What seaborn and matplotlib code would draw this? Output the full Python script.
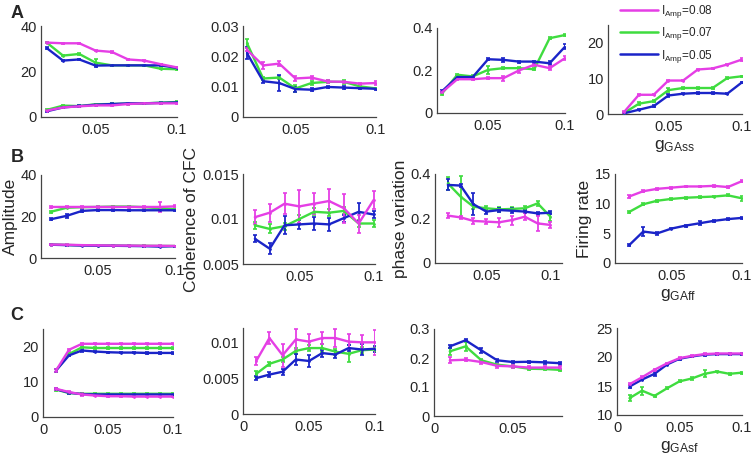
import numpy as np
import pandas as pd
import matplotlib
matplotlib.use("Agg")
import matplotlib.pyplot as plt
import seaborn as sns
from matplotlib.lines import Line2D

# ---------------- data ----------------
x_ab = [0.02, 0.03, 0.04, 0.05, 0.06, 0.07, 0.08, 0.09, 0.10]
x_c = [0.01, 0.02, 0.03, 0.04, 0.05, 0.06, 0.07, 0.08, 0.09, 0.10]
x_c3 = [0.01, 0.02, 0.03, 0.04, 0.05, 0.06, 0.07, 0.08]
amp_labels = ["0.08", "0.07", "0.05"]

# Row A (g_GAss)
A1_hi_m = [32.7, 32.4, 32.4, 29.2, 28.6, 25.3, 24.8, 23.2, 21.8]
A1_hi_g = [32.7, 27.0, 27.7, 23.9, 22.7, 22.7, 22.7, 21.2, 21.0]
A1_hi_b = [30.3, 24.8, 25.3, 22.6, 22.7, 22.7, 22.7, 22.7, 21.6]
A1_lo_m = [2.8, 4.2, 4.7, 5.1, 5.1, 5.7, 6.0, 6.0, 6.0]
A1_lo_g = [3.1, 5.0, 4.8, 5.6, 5.7, 5.9, 6.0, 6.3, 6.6]
A1_lo_b = [2.5, 4.2, 4.8, 5.4, 5.7, 6.0, 6.0, 6.2, 6.4]
A1_hi_m_e = [0.3, 0.3, 0.3, 0.4, 0.3, 0.3, 0.3, 0.3, 0.3]
A1_hi_g_e = [0.3, 0.4, 0.4, 1.5, 0.3, 0.3, 0.3, 0.3, 0.3]
A1_hi_b_e = [0.4, 0.4, 0.4, 0.7, 0.3, 0.3, 0.3, 0.4, 0.4]
A1_lo_e = [0.3, 0.3, 0.3, 0.3, 0.3, 0.3, 0.3, 0.3, 0.3]

A2_m = [0.0221, 0.0170, 0.0176, 0.0127, 0.0130, 0.0117, 0.0116, 0.0110, 0.0112]
A2_g = [0.0243, 0.0127, 0.0130, 0.0094, 0.0112, 0.0116, 0.0116, 0.0101, 0.0094]
A2_b = [0.0210, 0.0118, 0.0112, 0.0092, 0.0090, 0.0099, 0.0097, 0.0095, 0.0093]
A2_m_e = [0.0005, 0.0012, 0.0008, 0.0007, 0.0005, 0.0004, 0.0004, 0.0003, 0.0006]
A2_g_e = [0.0015, 0.0005, 0.0005, 0.0013, 0.0008, 0.0005, 0.0006, 0.0003, 0.0003]
A2_b_e = [0.0020, 0.0006, 0.0025, 0.0008, 0.0005, 0.0004, 0.0005, 0.0003, 0.0003]

A3_m = [0.097, 0.159, 0.159, 0.164, 0.164, 0.200, 0.227, 0.211, 0.258]
A3_g = [0.091, 0.180, 0.172, 0.203, 0.211, 0.211, 0.206, 0.352, 0.367]
A3_b = [0.102, 0.169, 0.169, 0.253, 0.250, 0.242, 0.242, 0.234, 0.312]
A3_m_e = [0.005, 0.005, 0.005, 0.005, 0.012, 0.012, 0.005, 0.010, 0.010]
A3_g_e = [0.005, 0.005, 0.005, 0.020, 0.005, 0.005, 0.005, 0.005, 0.005]
A3_b_e = [0.005, 0.005, 0.005, 0.005, 0.010, 0.005, 0.005, 0.010, 0.012]

A4_m = [0.6, 5.4, 5.4, 9.4, 9.4, 12.5, 12.8, 13.9, 15.3]
A4_g = [0.3, 2.9, 3.6, 6.7, 7.3, 7.3, 7.3, 10.1, 10.6]
A4_b = [0.2, 1.2, 2.2, 5.2, 5.7, 5.9, 5.9, 5.7, 8.9]
A4_m_e = [0.2, 0.2, 0.2, 0.2, 0.2, 0.2, 0.2, 0.2, 0.4]
A4_g_e = [0.2, 0.4, 0.2, 0.6, 0.2, 0.2, 0.2, 0.2, 0.2]
A4_b_e = [0.2, 0.2, 0.3, 0.3, 0.2, 0.2, 0.2, 0.2, 0.2]

# Row B (g_GAff)
B1_hi_m = [24.6, 24.6, 24.6, 24.6, 24.6, 24.6, 24.6, 24.6, 24.9]
B1_hi_g = [22.3, 24.2, 24.5, 24.6, 24.8, 24.8, 24.5, 24.0, 23.5]
B1_hi_b = [18.7, 20.3, 22.7, 23.1, 23.1, 23.0, 23.0, 23.0, 23.0]
B1_lo_m = [6.5, 6.4, 6.2, 6.1, 6.0, 6.0, 5.9, 5.9, 5.8]
B1_lo_g = [6.5, 6.3, 6.1, 6.0, 6.0, 5.9, 5.9, 5.8, 5.8]
B1_lo_b = [6.4, 6.2, 6.0, 5.9, 5.9, 5.8, 5.7, 5.5, 5.7]
B1_hi_m_e = [0.3, 0.3, 0.3, 0.3, 0.3, 0.3, 0.3, 2.5, 0.5]
B1_hi_g_e = [0.4, 0.3, 0.3, 0.3, 0.3, 0.3, 0.3, 0.3, 0.3]
B1_hi_b_e = [0.5, 0.8, 0.3, 0.3, 0.3, 0.3, 0.3, 0.3, 0.3]
B1_lo_e = [0.2, 0.2, 0.2, 0.2, 0.2, 0.2, 0.2, 0.2, 0.2]

B2_m = [0.0102, 0.0107, 0.0117, 0.0114, 0.0117, 0.0120, 0.0112, 0.0095, 0.0121]
B2_g = [0.0093, 0.0089, 0.0092, 0.0100, 0.0108, 0.0107, 0.0109, 0.0095, 0.0095]
B2_b = [0.0078, 0.0067, 0.0093, 0.0094, 0.0095, 0.0094, 0.0101, 0.0108, 0.0105]
B2_m_e = [0.0008, 0.0010, 0.0012, 0.0018, 0.0012, 0.0013, 0.0016, 0.0010, 0.0010]
B2_g_e = [0.0004, 0.0005, 0.0004, 0.0004, 0.0004, 0.0004, 0.0004, 0.0004, 0.0004]
B2_b_e = [0.0004, 0.0006, 0.0010, 0.0005, 0.0007, 0.0007, 0.0004, 0.0010, 0.0004]

B3_m = [0.213, 0.205, 0.189, 0.186, 0.183, 0.193, 0.208, 0.178, 0.171]
B3_g = [0.358, 0.298, 0.253, 0.246, 0.241, 0.243, 0.246, 0.268, 0.208]
B3_b = [0.351, 0.348, 0.264, 0.231, 0.238, 0.235, 0.231, 0.223, 0.226]
B3_m_e = [0.012, 0.008, 0.015, 0.012, 0.020, 0.020, 0.015, 0.035, 0.012]
B3_g_e = [0.030, 0.095, 0.010, 0.010, 0.010, 0.008, 0.008, 0.010, 0.020]
B3_b_e = [0.025, 0.008, 0.050, 0.010, 0.008, 0.010, 0.008, 0.008, 0.008]

B4_m = [11.2, 12.1, 12.5, 12.7, 12.9, 12.9, 13.0, 12.8, 13.8]
B4_g = [8.6, 9.9, 10.5, 10.8, 11.0, 11.1, 11.2, 11.4, 10.9]
B4_b = [3.0, 5.3, 5.0, 5.8, 6.3, 6.7, 7.1, 7.4, 7.6]
B4_m_e = [0.2, 0.2, 0.15, 0.15, 0.15, 0.15, 0.15, 0.2, 0.2]
B4_g_e = [0.2, 0.2, 0.15, 0.15, 0.15, 0.15, 0.15, 0.15, 0.4]
B4_b_e = [0.2, 0.8, 0.2, 0.15, 0.15, 0.3, 0.2, 0.15, 0.15]

# Row C (g_GAsf)
C1_hi_m = [13.2, 19.1, 20.8, 20.8, 20.8, 20.8, 20.8, 20.8, 20.8, 20.8]
C1_hi_g = [13.2, 17.9, 19.8, 19.6, 19.6, 19.6, 19.6, 19.6, 19.6, 19.6]
C1_hi_b = [13.2, 17.5, 18.9, 18.6, 18.4, 18.3, 18.3, 18.2, 18.2, 18.2]
C1_lo_m = [8.0, 7.1, 6.4, 6.1, 5.9, 5.9, 5.8, 5.8, 5.8, 5.8]
C1_lo_g = [7.8, 6.8, 6.6, 6.6, 6.6, 6.6, 6.6, 6.6, 6.6, 6.6]
C1_lo_b = [7.9, 6.9, 6.5, 6.4, 6.4, 6.4, 6.4, 6.4, 6.4, 6.4]
C1_e = [0.3, 0.3, 0.3, 0.2, 0.2, 0.2, 0.2, 0.2, 0.2, 0.2]

C2_m = [0.0074, 0.0106, 0.0082, 0.0104, 0.0101, 0.0106, 0.0106, 0.0101, 0.0100, 0.0100]
C2_g = [0.0056, 0.0070, 0.0076, 0.0088, 0.0092, 0.0092, 0.0087, 0.0084, 0.0089, 0.0090]
C2_b = [0.0050, 0.0055, 0.0059, 0.0076, 0.0074, 0.0085, 0.0083, 0.0092, 0.0090, 0.0091]
C2_m_e = [0.0006, 0.0008, 0.0016, 0.0015, 0.0010, 0.0008, 0.0012, 0.0010, 0.0010, 0.0017]
C2_g_e = [0.0004, 0.0003, 0.0004, 0.0004, 0.0004, 0.0005, 0.0004, 0.0012, 0.0004, 0.0003]
C2_b_e = [0.0003, 0.0004, 0.0004, 0.0008, 0.0009, 0.0005, 0.0005, 0.0004, 0.0007, 0.0004]

C3_m = [0.192, 0.194, 0.186, 0.173, 0.171, 0.167, 0.167, 0.167]
C3_g = [0.223, 0.240, 0.192, 0.177, 0.171, 0.163, 0.162, 0.159]
C3_b = [0.240, 0.261, 0.226, 0.192, 0.186, 0.187, 0.185, 0.182]
C3_m_e = [0.010, 0.005, 0.008, 0.006, 0.005, 0.004, 0.004, 0.004]
C3_g_e = [0.012, 0.015, 0.005, 0.004, 0.004, 0.004, 0.004, 0.004]
C3_b_e = [0.005, 0.004, 0.010, 0.005, 0.004, 0.004, 0.004, 0.005]

C4_m = [15.3, 16.5, 17.8, 18.9, 19.8, 20.2, 20.5, 20.6, 20.6, 20.6]
C4_g = [12.9, 14.2, 13.3, 14.6, 15.8, 16.3, 17.1, 17.5, 17.1, 17.3]
C4_b = [14.9, 16.1, 17.1, 18.7, 19.7, 20.1, 20.4, 20.5, 20.5, 20.5]
C4_m_e = [0.2, 0.15, 0.15, 0.15, 0.15, 0.15, 0.15, 0.15, 0.15, 0.15]
C4_g_e = [0.5, 0.7, 0.15, 0.15, 0.15, 0.2, 0.6, 0.15, 0.15, 0.15]
C4_b_e = [0.2, 0.15, 0.3, 0.15, 0.15, 0.15, 0.15, 0.15, 0.15, 0.15]

# ---------------- style ----------------
sns.set_style("white")
plt.rcParams["font.family"] = ["Liberation Sans", "DejaVu Sans"]
plt.rcParams["mathtext.fontset"] = "custom"
plt.rcParams["mathtext.rm"] = "Liberation Sans"
plt.rcParams["mathtext.it"] = "Liberation Sans"

MAG, GRN, BLU = "#e53ee5", "#3fdc3f", "#1a24c8"
palette = {"0.08": MAG, "0.07": GRN, "0.05": BLU}

W, H = 753, 458
fig = plt.figure(figsize=(W / 100, H / 100), dpi=100)


def add_ax(l, t, r, b):
    return fig.add_axes([l / W, 1 - b / H, (r - l) / W, (b - t) / H])


def fmt(v, pos=None):
    return "%g" % round(v, 6)


def panel(box, x, series, xlim, ylim, yticks, xticks, ylabel=None, xlabel=None):
    ax = add_ax(*box)
    rows = []
    for ci, (amp, vals, errs) in enumerate(series):
        for xi, v, e in zip(x, vals, errs):
            rows.append({"x": xi, "y": v, "err": e, "amp": amp, "curve": ci})
    df = pd.DataFrame(rows)
    order = ["0.07", "0.05", "0.08"]
    for amp in order:
        sub = df[df["amp"] == amp]
        if sub.empty:
            continue
        ax.errorbar(sub["x"], sub["y"], yerr=sub["err"], fmt="none",
                    ecolor=palette[amp], elinewidth=1.3, capsize=1.6,
                    capthick=1.2, zorder=2)
        sns.lineplot(data=sub, x="x", y="y", units="curve", estimator=None,
                     color=palette[amp], lw=1.7, marker="o", markersize=2.0,
                     markeredgewidth=0, ax=ax, legend=False, zorder=3)
    ax.set_xlim(*xlim)
    ax.set_ylim(*ylim)
    ax.set_yticks(yticks)
    ax.set_xticks(xticks)
    ax.xaxis.set_major_formatter(plt.FuncFormatter(fmt))
    ax.yaxis.set_major_formatter(plt.FuncFormatter(fmt))
    ax.set_xlabel("")
    ax.set_ylabel("")
    if ylabel:
        ax.set_ylabel(ylabel, fontsize=12.5, labelpad=2)
    if xlabel:
        ax.set_xlabel(xlabel, fontsize=12.5, labelpad=3)
    sns.despine(ax=ax)
    for s in ["left", "bottom"]:
        ax.spines[s].set_color("#444444")
        ax.spines[s].set_linewidth(0.9)
    ax.tick_params(axis="both", labelsize=10.5, direction="in", length=2.5,
                   width=0.8, color="#444444", pad=3)
    ax.tick_params(axis="x", pad=4)
    return ax


lab_m, lab_g, lab_b = amp_labels

# Row A
panel((41, 26, 177, 117), x_ab,
      [(lab_m, A1_hi_m, A1_hi_m_e), (lab_g, A1_hi_g, A1_hi_g_e), (lab_b, A1_hi_b, A1_hi_b_e),
       (lab_m, A1_lo_m, A1_lo_e), (lab_g, A1_lo_g, A1_lo_e), (lab_b, A1_lo_b, A1_lo_e)],
      (0.0165, 0.1), (0, 40), [0, 20, 40], [0.05, 0.1])
panel((243, 26, 376, 117), x_ab,
      [(lab_m, A2_m, A2_m_e), (lab_g, A2_g, A2_g_e), (lab_b, A2_b, A2_b_e)],
      (0.0175, 0.1), (0, 0.03), [0, 0.01, 0.02, 0.03], [0.05, 0.1])
panel((437, 28, 565, 113), x_ab,
      [(lab_m, A3_m, A3_m_e), (lab_g, A3_g, A3_g_e), (lab_b, A3_b, A3_b_e)],
      (0.0168, 0.1), (0, 0.4), [0, 0.2, 0.4], [0.05, 0.1])
panel((608, 25, 742, 114), x_ab,
      [(lab_m, A4_m, A4_m_e), (lab_g, A4_g, A4_g_e), (lab_b, A4_b, A4_b_e)],
      (0.009, 0.1), (0, 25), [0, 10, 20], [0.05, 0.1],
      xlabel=r"$\mathrm{g_{GAss}}$")

# Row B
panel((41, 175, 175, 258), x_ab,
      [(lab_m, B1_hi_m, B1_hi_m_e), (lab_g, B1_hi_g, B1_hi_g_e), (lab_b, B1_hi_b, B1_hi_b_e),
       (lab_m, B1_lo_m, B1_lo_e), (lab_g, B1_lo_g, B1_lo_e), (lab_b, B1_lo_b, B1_lo_e)],
      (0.0135, 0.1), (0, 40), [0, 20, 40], [0.05, 0.1], ylabel="Amplitude")
panel((243, 174, 375, 264), x_ab,
      [(lab_g, B2_g, B2_g_e), (lab_b, B2_b, B2_b_e), (lab_m, B2_m, B2_m_e)],
      (0.012, 0.101), (0.005, 0.015), [0.005, 0.01, 0.015], [0.05, 0.1],
      ylabel="Coherence of CFC")
panel((435, 174, 562, 263), x_ab,
      [(lab_m, B3_m, B3_m_e), (lab_g, B3_g, B3_g_e), (lab_b, B3_b, B3_b_e)],
      (0.01, 0.109), (0, 0.4), [0, 0.2, 0.4], [0.05, 0.1], ylabel="phase variation")
panel((615, 174, 742, 263), x_ab,
      [(lab_m, B4_m, B4_m_e), (lab_g, B4_g, B4_g_e), (lab_b, B4_b, B4_b_e)],
      (0.01, 0.1), (0, 15), [0, 5, 10, 15], [0.05, 0.1], ylabel="Firing rate",
      xlabel=r"$\mathrm{g_{GAff}}$")

# Row C
panel((43, 329, 173, 417), x_c,
      [(lab_m, C1_hi_m, C1_e), (lab_g, C1_hi_g, C1_e), (lab_b, C1_hi_b, C1_e),
       (lab_m, C1_lo_m, C1_e), (lab_g, C1_lo_g, C1_e), (lab_b, C1_lo_b, C1_e)],
      (0, 0.1), (0, 25), [0, 10, 20], [0, 0.05, 0.1])
panel((243, 328, 375, 414), x_c,
      [(lab_m, C2_m, C2_m_e), (lab_g, C2_g, C2_g_e), (lab_b, C2_b, C2_b_e)],
      (0, 0.1), (0, 0.012), [0, 0.005, 0.01], [0, 0.05, 0.1])
panel((434, 329, 562, 416), x_c3,
      [(lab_m, C3_m, C3_m_e), (lab_g, C3_g, C3_g_e), (lab_b, C3_b, C3_b_e)],
      (0, 0.081), (0, 0.3), [0, 0.1, 0.2, 0.3], [0, 0.05])
panel((617, 328, 742, 415), x_c,
      [(lab_m, C4_m, C4_m_e), (lab_g, C4_g, C4_g_e), (lab_b, C4_b, C4_b_e)],
      (0, 0.1), (10, 25), [10, 15, 20, 25], [0, 0.05, 0.1],
      xlabel=r"$\mathrm{g_{GAsf}}$")

# Legend
handles = [Line2D([0], [0], color=palette[a], lw=1.8) for a in amp_labels]
labels = [r"$\mathrm{I_{Amp}}$=" + a for a in amp_labels]
fig.legend(handles, labels, loc="upper left", bbox_to_anchor=(620 / W, 1 - 3 / H),
           frameon=False, fontsize=8.5, handlelength=3.2, handletextpad=0.3,
           labelspacing=0.45, borderaxespad=0, borderpad=0)

# Panel letters
for letter, (px, py) in zip(["A", "B", "C"], [(17, 13), (17, 158), (17, 316)]):
    fig.text(px / W, 1 - py / H, letter, fontsize=13, fontweight="bold",
             ha="center", va="center")

fig.savefig("out.png", dpi=100)
